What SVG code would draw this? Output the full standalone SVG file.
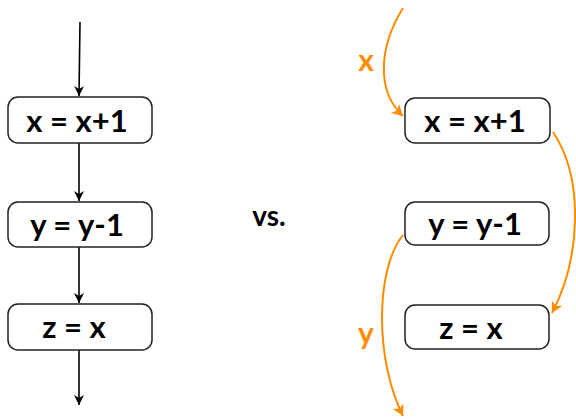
<svg xmlns="http://www.w3.org/2000/svg" width="576" height="419" viewBox="0 0 576 419">
<defs>
<marker id="ab" markerWidth="12" markerHeight="12" refX="10" refY="5" orient="auto" markerUnits="userSpaceOnUse"><path d="M0,0 L10,5 L0,10 L3,5 Z" fill="#000"/></marker>
<marker id="ao" markerWidth="14" markerHeight="14" refX="11" refY="6" orient="auto" markerUnits="userSpaceOnUse"><path d="M0,0 L11,6 L0,12 L3,6 Z" fill="#ff8c00"/></marker>
</defs>
<style>
.box{fill:#fff;stroke:#222;stroke-width:1.5}
.t{font-family:Lato,"Open Sans",sans-serif;font-size:31px;font-weight:bold;fill:#000;text-anchor:middle}
.lbl{font-family:Lato,"Open Sans",sans-serif;font-size:30px;font-weight:bold;fill:#ff8c00;text-anchor:middle}
.blk{fill:none;stroke:#000;stroke-width:1.6}
.org{fill:none;stroke:#ff8c00;stroke-width:2}
</style>
<g id="connectors">
<path class="blk" d="M80,22 L79,96" marker-end="url(#ab)"/>
<path class="blk" d="M79,143 L79,201" marker-end="url(#ab)"/>
<path class="blk" d="M79,247 L79,303" marker-end="url(#ab)"/>
<path class="blk" d="M79,350 L79,405" marker-end="url(#ab)"/>
<path class="org" d="M403,8 C380,45 375,90 403,116" marker-end="url(#ao)"/>
<path class="org" d="M553,132 C585,180 580,260 552,313" marker-end="url(#ao)"/>
<path class="org" d="M403,235 C375,270 375,360 403,416" marker-end="url(#ao)"/>
</g>
<g id="n1"><rect class="box" x="8" y="97" width="144" height="46" rx="10"/><text class="t" x="77" y="132">x = x+1</text></g>
<g id="n2"><rect class="box" x="8" y="202" width="144" height="45" rx="10"/><text class="t" x="77" y="236">y = y-1</text></g>
<g id="n3"><rect class="box" x="8" y="304" width="144" height="46" rx="10"/><text class="t" x="74" y="338">z = x</text></g>
<g id="vs"><text class="t" x="269" y="226" style="font-size:28px">vs.</text></g>
<g id="n4"><rect class="box" x="405" y="98" width="145" height="45" rx="10"/><text class="t" x="475" y="132">x = x+1</text></g>
<g id="n5"><rect class="box" x="405" y="202" width="144" height="43" rx="10"/><text class="t" x="475" y="235">y = y-1</text></g>
<g id="n6"><rect class="box" x="405" y="305" width="144" height="44" rx="10"/><text class="t" x="471" y="339">z = x</text></g>
<g id="lx"><text class="lbl" x="366" y="71">x</text></g>
<g id="ly"><text class="lbl" x="366" y="344">y</text></g>
</svg>
